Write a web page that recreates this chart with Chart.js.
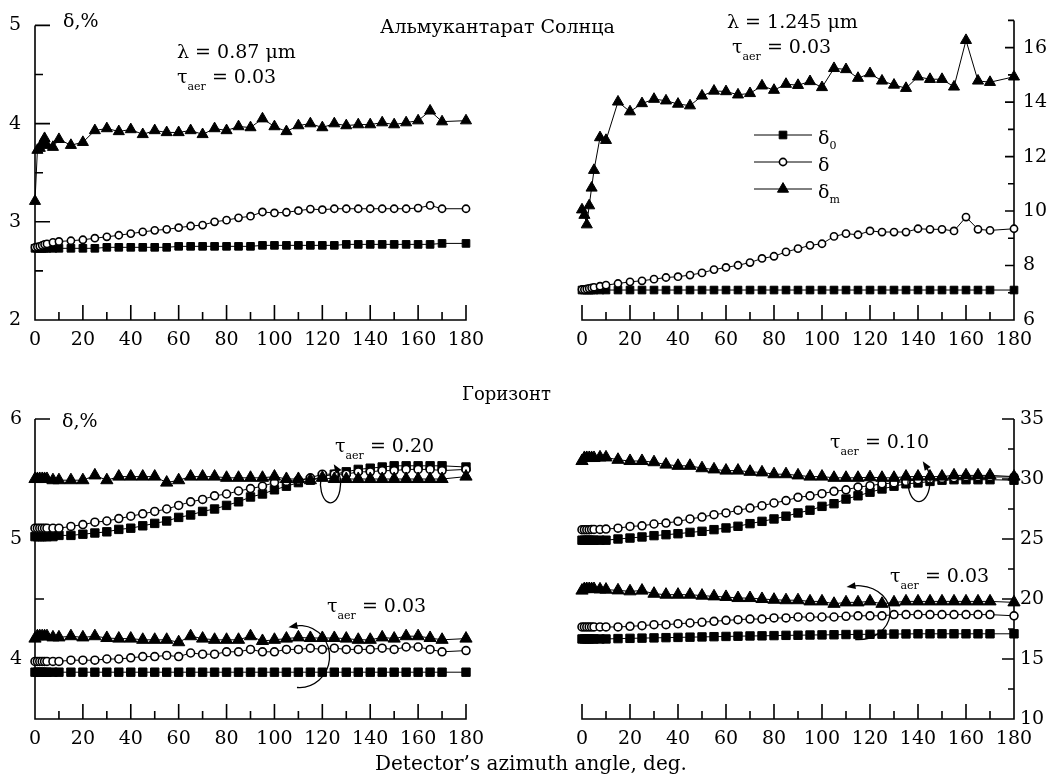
<!DOCTYPE html>
<html lang="ru">
<head>
<meta charset="utf-8">
<title>δ vs detector azimuth</title>
<script src="https://cdn.jsdelivr.net/npm/chart.js@4.4.1/dist/chart.umd.min.js"></script>
<style>
html,body{margin:0;padding:0;background:#fff}
#wrap{position:relative;width:1059px;height:780px;overflow:hidden;font-family:"DejaVu Serif",serif;color:#000}
#wrap canvas{position:absolute}
.t{position:absolute;font-size:19px;line-height:1;white-space:nowrap}
.s{font-size:11px;position:relative;top:7px}
.d{font-size:11px;position:relative;top:5px}
</style>
</head>
<body>
<div id="wrap">
<canvas id="p1" width="530" height="360" style="left:0;top:0"></canvas>
<canvas id="p2" width="529" height="360" style="left:530px;top:0"></canvas>
<canvas id="p3" width="530" height="400" style="left:0;top:380px"></canvas>
<canvas id="p4" width="529" height="400" style="left:530px;top:380px"></canvas>

<div class="t" style="left:63px;top:11px">δ,%</div>
<div class="t" style="left:380px;top:17px">Альмукантарат Солнца</div>
<div class="t" style="left:177px;top:42px">λ = 0.87 μm</div>
<div class="t" style="left:177px;top:67px">τ<span class="s">aer</span> = 0.03</div>
<div class="t" style="left:727px;top:12px">λ = 1.245 μm</div>
<div class="t" style="left:732px;top:37px">τ<span class="s">aer</span> = 0.03</div>
<div class="t" style="left:818px;top:128px">δ<span class="d">0</span></div>
<div class="t" style="left:818px;top:155px">δ</div>
<div class="t" style="left:818px;top:182px">δ<span class="d">m</span></div>
<div class="t" style="left:462px;top:385px;font-size:18px">Горизонт</div>
<div class="t" style="left:62px;top:411px">δ,%</div>
<div class="t" style="left:335px;top:436px">τ<span class="s">aer</span> = 0.20</div>
<div class="t" style="left:327px;top:596px">τ<span class="s">aer</span> = 0.03</div>
<div class="t" style="left:830px;top:432px">τ<span class="s">aer</span> = 0.10</div>
<div class="t" style="left:890px;top:566px">τ<span class="s">aer</span> = 0.03</div>
<div class="t" style="left:375px;top:753px;font-size:20px">Detector’s azimuth angle, deg.</div>
</div>

<script>
// ---------- data ----------
const X_DEG = [0,1,2,3,4,5,7.5,10,15,20,25,30,35,40,45,50,55,60,65,70,75,80,85,90,95,100,105,110,115,120,125,130,135,140,145,150,155,160,165,170,180];

const X_TICK_LABELS = [0,20,40,60,80,100,120,140,160,180];
const X_MINOR_TICKS = [10,30,50,70,90,110,130,150,170];

// Almucantar, lambda = 0.87 um, tau = 0.03
const alm087_d0 = [2.73,2.73,2.73,2.73,2.73,2.73,2.73,2.73, 2.73,2.73,2.73,2.74,2.74,2.74,2.74,2.74,2.74,2.75, 2.75,2.75,2.75,2.75,2.75,2.75,2.76,2.76,2.76,2.76, 2.76,2.76,2.76,2.77,2.77,2.77,2.77,2.77,2.77,2.77, 2.77,2.78, 2.78];
const alm087_d  = [2.74,2.745,2.75,2.76,2.77,2.775,2.79,2.80, 2.807,2.817,2.833,2.847,2.863,2.88,2.897,2.913,2.923,2.94, 2.957,2.967,3.0,3.017,3.04,3.057,3.1,3.09,3.097,3.113, 3.13,3.123,3.133,3.133,3.133,3.133,3.133,3.133,3.133,3.14, 3.167,3.133, 3.133];
const alm087_dm = [3.21,3.73,3.75,3.80,3.85,3.78,3.76,3.84, 3.78,3.81,3.93,3.95,3.92,3.94,3.89,3.93,3.91,3.91, 3.93,3.89,3.95,3.93,3.97,3.96,4.05,3.97,3.92,3.98, 4.00,3.96,4.00,3.98,3.99,3.99,4.01,3.99,4.01,4.03, 4.13,4.02, 4.03];

// Almucantar, lambda = 1.245 um, tau = 0.03
const alm1245_d0 = [7.1,7.1,7.1,7.1,7.1,7.1,7.1,7.1, 7.1,7.1,7.1,7.1,7.1,7.1,7.1,7.1,7.1,7.1, 7.1,7.1,7.1,7.1,7.1,7.1,7.1,7.1,7.1,7.1, 7.1,7.1,7.1,7.1,7.1,7.1,7.1,7.1,7.1,7.1, 7.1,7.1, 7.1];
const alm1245_d  = [7.12,7.12,7.14,7.16,7.18,7.2,7.24,7.28, 7.34,7.4,7.44,7.5,7.56,7.59,7.65,7.73,7.85,7.93, 8.01,8.11,8.26,8.34,8.5,8.62,8.74,8.8,9.07,9.17, 9.13,9.27,9.23,9.23,9.23,9.35,9.33,9.33,9.27,9.78, 9.33,9.29, 9.35];
const alm1245_dm = [10.05,9.85,9.5,10.2,10.85,11.5,12.7,12.6, 14.01,13.65,13.95,14.11,14.05,13.93,13.87,14.23,14.41,14.39, 14.27,14.32,14.6,14.44,14.66,14.62,14.76,14.54,15.24,15.2, 14.88,15.05,14.78,14.63,14.51,14.93,14.84,14.84,14.56,16.27, 14.78,14.73, 14.93];

// Horizon, lambda = 0.87 um, tau = 0.20
const hor087_020_d0 = [5.02,5.02,5.02,5.02,5.02,5.02,5.02,5.03, 5.03,5.04,5.05,5.06,5.08,5.09,5.11,5.13,5.15,5.18, 5.2,5.23,5.25,5.28,5.31,5.35,5.375,5.41,5.44,5.47, 5.49,5.52,5.54,5.56,5.58,5.59,5.6,5.61,5.61,5.61, 5.61,5.61, 5.6];
const hor087_020_d  = [5.09,5.09,5.09,5.09,5.09,5.09,5.09,5.09, 5.105,5.12,5.14,5.15,5.17,5.19,5.21,5.23,5.25,5.28, 5.31,5.33,5.36,5.375,5.4,5.42,5.44,5.47,5.48,5.49, 5.51,5.54,5.54,5.54,5.56,5.56,5.57,5.57,5.58,5.58, 5.58,5.57, 5.58];
const hor087_020_dm = [5.5,5.5,5.5,5.5,5.5,5.5,5.49,5.49, 5.49,5.49,5.53,5.49,5.52,5.52,5.52,5.52,5.47,5.49, 5.52,5.52,5.52,5.51,5.51,5.51,5.51,5.52,5.5,5.5, 5.49,5.51,5.5,5.5,5.5,5.5,5.5,5.5,5.5,5.5, 5.5,5.5, 5.52];

// Horizon, lambda = 0.87 um, tau = 0.03
const hor087_003_d0 = [3.89,3.89,3.89,3.89,3.89,3.89,3.89,3.89, 3.89,3.89,3.89,3.89,3.89,3.89,3.89,3.89,3.89,3.89, 3.89,3.89,3.89,3.89,3.89,3.89,3.89,3.89,3.89,3.89, 3.89,3.89,3.89,3.89,3.89,3.89,3.89,3.89,3.89,3.89, 3.89,3.89, 3.89];
const hor087_003_d  = [3.98,3.98,3.98,3.98,3.98,3.98,3.98,3.98, 3.99,3.99,3.99,4.0,4.0,4.01,4.02,4.02,4.03,4.02, 4.05,4.04,4.04,4.06,4.06,4.08,4.06,4.06,4.08,4.08, 4.09,4.08,4.09,4.08,4.08,4.08,4.09,4.08,4.1,4.1, 4.08,4.06, 4.07];
const hor087_003_dm = [4.17,4.19,4.19,4.19,4.19,4.19,4.18,4.18, 4.19,4.18,4.19,4.175,4.17,4.17,4.16,4.16,4.16,4.14, 4.19,4.17,4.16,4.16,4.16,4.19,4.15,4.16,4.17,4.18, 4.175,4.175,4.175,4.17,4.16,4.16,4.18,4.17,4.19,4.19, 4.175,4.16, 4.17];

// Horizon, lambda = 1.245 um, tau = 0.10
const hor1245_010_d0 = [24.9,24.9,24.9,24.9,24.9,24.9,24.9,24.9, 25.0,25.08,25.17,25.28,25.36,25.44,25.55,25.64,25.78,25.92, 26.06,26.28,26.47,26.67,26.9,27.17,27.4,27.72,27.94,28.33, 28.6,28.9,29.17,29.4,29.6,29.67,29.8,29.9,29.94,29.94, 29.94,29.94, 29.9];
const hor1245_010_d  = [25.78,25.78,25.78,25.78,25.8,25.8,25.8,25.83, 25.9,26.05,26.1,26.25,26.33,26.47,26.67,26.83,27.03,27.17, 27.4,27.58,27.78,28.0,28.2,28.47,28.6,28.78,28.97,29.1, 29.33,29.44,29.6,29.67,29.8,29.94,30.0,30.05,30.1,30.17, 30.17,30.17, 30.17];
const hor1245_010_dm = [31.5,31.75,31.75,31.75,31.75,31.75,31.8,31.8, 31.6,31.5,31.5,31.4,31.2,31.1,31.1,30.9,30.8,30.7, 30.7,30.6,30.55,30.4,30.4,30.3,30.2,30.2,30.1,30.1, 30.1,30.15,30.1,30.1,30.2,30.2,30.2,30.2,30.3,30.3, 30.3,30.3, 30.2];

// Horizon, lambda = 1.245 um, tau = 0.03
const hor1245_003_d0 = [16.67,16.67,16.67,16.67,16.67,16.67,16.67,16.67, 16.7,16.72,16.74,16.76,16.78,16.8,16.82,16.84,16.86,16.88, 16.9,16.92,16.93,16.95,16.97,16.98,17.0,17.01,17.02,17.04, 17.05,17.06,17.07,17.08,17.09,17.1,17.1,17.1,17.1,17.1, 17.1,17.1, 17.1];
const hor1245_003_d  = [17.67,17.67,17.67,17.67,17.67,17.67,17.67,17.67, 17.67,17.72,17.78,17.86,17.86,17.94,18.0,18.06,18.14,18.22, 18.28,18.33,18.33,18.42,18.42,18.5,18.5,18.5,18.5,18.56, 18.6,18.6,18.6,18.7,18.7,18.7,18.7,18.7,18.7,18.7, 18.7,18.7, 18.6];
const hor1245_003_dm = [20.7,20.83,20.83,20.83,20.83,20.83,20.8,20.78, 20.72,20.64,20.7,20.44,20.36,20.36,20.36,20.28,20.22,20.17, 20.08,20.08,20.0,19.94,19.9,19.9,19.8,19.8,19.6,19.72, 19.72,19.8,19.6,19.72,19.8,19.8,19.8,19.8,19.8,19.8, 19.8,19.8, 19.72];

// y tick labels
const Y1_LABELS = [2,3,4,5];          const Y1_MINOR = [2.5,3.5,4.5];
const Y2_LABELS = [6,8,10,12,14,16];  const Y2_MINOR = [7,9,11,13,15,17];
const Y3_LABELS = [4,5,6];            const Y3_MINOR = [4.5,5.5];
const Y4_LABELS = [10,15,20,25,30,35];const Y4_MINOR = [12.5,17.5,22.5,27.5,32.5];

// ---------- drawing ----------
Chart.defaults.font.family = '"DejaVu Serif", serif';
Chart.defaults.font.size = 19;
Chart.defaults.color = '#000';

function series(ys, kind, k) {
  const d = {
    data: X_DEG.map((x, i) => ({x: x, y: ys[i]})),
    showLine: true, borderColor: '#000', borderWidth: 1, clip: false,
    pointBorderColor: '#000', pointHoverRadius: 0
  };
  if (kind === 'sq') Object.assign(d, {pointStyle: 'rect', pointRadius: 5.4 * k, pointBackgroundColor: '#000', pointBorderWidth: 1, order: 3});
  if (kind === 'ci') Object.assign(d, {pointStyle: 'circle', pointRadius: 3.6 * k, pointBackgroundColor: '#fff', pointBorderWidth: 1.6, order: 2});
  if (kind === 'tr') Object.assign(d, {pointStyle: 'triangle', pointRadius: 6.4 * k, pointBackgroundColor: '#000', pointBorderWidth: 1, order: 1});
  return d;
}

function arrowDraw(ctx, chart, a) {
  const sx = chart.scales.x, sy = chart.scales.y;
  const cx = sx.getPixelForValue(a.x), cy = sy.getPixelForValue(a.y);
  const r = Math.PI / 180;
  ctx.beginPath();
  ctx.ellipse(cx, cy, a.rx, a.ry, 0, a.a0 * r, a.a1 * r, true);
  ctx.stroke();
  const t = a.a1 * r;
  const px = cx + a.rx * Math.cos(t), py = cy + a.ry * Math.sin(t);
  let tx = a.rx * Math.sin(t), ty = -a.ry * Math.cos(t);
  const L = Math.hypot(tx, ty); tx /= L; ty /= L;
  const nx = -ty, ny = tx;
  ctx.beginPath();
  ctx.moveTo(px + tx * 6, py + ty * 6);
  ctx.lineTo(px - tx * 3 + nx * 3.5, py - ty * 3 + ny * 3.5);
  ctx.lineTo(px - tx * 3 - nx * 3.5, py - ty * 3 - ny * 3.5);
  ctx.closePath();
  ctx.fill();
}

const framePlugin = {
  id: 'frame',
  beforeDatasetsDraw(chart, args, o) {
    const ctx = chart.ctx, sx = chart.scales.x, sy = chart.scales.y;
    const yb = sy.getPixelForValue(sy.min);
    const xl = sx.getPixelForValue(sx.min), xr = sx.getPixelForValue(sx.max);
    const xa = o.side === 'left' ? xl : xr;
    const dir = o.side === 'left' ? 1 : -1;
    ctx.save();
    ctx.strokeStyle = '#000'; ctx.lineWidth = 1.6;
    ctx.beginPath();
    ctx.moveTo(xl - 0.8, yb); ctx.lineTo(xr + 0.8, yb);
    ctx.moveTo(xa, yb); ctx.lineTo(xa, sy.getPixelForValue(sy.max));
    X_TICK_LABELS.forEach(v => { const p = sx.getPixelForValue(v); ctx.moveTo(p, yb); ctx.lineTo(p, yb - o.xMaj); });
    X_MINOR_TICKS.forEach(v => { const p = sx.getPixelForValue(v); ctx.moveTo(p, yb); ctx.lineTo(p, yb - o.xMin); });
    o.yMajor.forEach(v => { const p = sy.getPixelForValue(v); ctx.moveTo(xa, p); ctx.lineTo(xa + dir * o.yMaj, p); });
    o.yMinor.forEach(v => { const p = sy.getPixelForValue(v); ctx.moveTo(xa, p); ctx.lineTo(xa + dir * o.yMin, p); });
    ctx.stroke();
    ctx.restore();
  },
  afterDatasetsDraw(chart, args, o) {
    const ctx = chart.ctx;
    ctx.save();
    ctx.strokeStyle = '#000'; ctx.fillStyle = '#000'; ctx.lineWidth = 1.3;
    (o.arrows || []).forEach(a => arrowDraw(ctx, chart, a));
    if (o.legend) {
      const L = o.legend;
      L.rows.forEach((row, i) => {
        const y = L.y0 + i * L.dy;
        ctx.lineWidth = 1;
        ctx.beginPath(); ctx.moveTo(L.x0, y); ctx.lineTo(L.x1, y); ctx.stroke();
        ctx.fillStyle = row.fill; ctx.strokeStyle = '#000'; ctx.lineWidth = row.bw;
        Chart.helpers.drawPoint(ctx, {pointStyle: row.style, radius: row.r, rotation: 0, borderWidth: row.bw}, (L.x0 + L.x1) / 2, y);
      });
    }
    ctx.restore();
  }
};

function makePanel(id, cfg) {
  new Chart(document.getElementById(id), {
    type: 'scatter',
    data: {datasets: cfg.datasets},
    options: {
      responsive: false, animation: false, devicePixelRatio: 1, events: [],
      layout: {padding: cfg.padding},
      plugins: {legend: {display: false}, tooltip: {enabled: false}, frame: cfg.frame},
      scales: {
        x: {
          type: 'linear', min: 0, max: 180,
          afterBuildTicks: s => { s.ticks = X_TICK_LABELS.map(v => ({value: v})); },
          afterFit: s => { s.height = cfg.xh; },
          ticks: {padding: cfg.xpad, maxRotation: 0, autoSkip: false, font: {size: 19}},
          grid: {display: false, drawTicks: false}, border: {display: false}
        },
        y: {
          type: 'linear', position: cfg.side, min: cfg.ymin, max: cfg.ymax,
          afterBuildTicks: s => { s.ticks = cfg.ylabels.map(v => ({value: v})); },
          afterFit: s => { s.width = cfg.yw; },
          ticks: {padding: cfg.ypad, autoSkip: false, font: {size: 19}},
          grid: {display: false, drawTicks: false}, border: {display: false}
        }
      }
    },
    plugins: [framePlugin]
  });
}

makePanel('p1', {
  datasets: [series(alm087_dm, 'tr', 1), series(alm087_d, 'ci', 1), series(alm087_d0, 'sq', 1)],
  padding: {left: 0, top: 18, right: 64, bottom: 0}, xh: 40, yw: 35, xpad: 9, ypad: 14,
  side: 'left', ymin: 2, ymax: 5, ylabels: Y1_LABELS,
  frame: {side: 'left', xMaj: 15, xMin: 8, yMaj: 15, yMin: 8, yMajor: Y1_LABELS, yMinor: Y1_MINOR}
});

makePanel('p2', {
  datasets: [series(alm1245_dm, 'tr', 1), series(alm1245_d, 'ci', 1), series(alm1245_d0, 'sq', 1)],
  padding: {left: 52, top: 20, right: 0, bottom: 0}, xh: 40, yw: 45, xpad: 9, ypad: 9,
  side: 'right', ymin: 6, ymax: 17, ylabels: Y2_LABELS,
  frame: {side: 'right', xMaj: 15, xMin: 8, yMaj: 9, yMin: 6, yMajor: Y2_LABELS, yMinor: Y2_MINOR,
    legend: {x0: 224, x1: 282, y0: 135, dy: 27, rows: [
      {style: 'rect', r: 5.4, fill: '#000', bw: 1},
      {style: 'circle', r: 3.6, fill: '#fff', bw: 1.6},
      {style: 'triangle', r: 6.4, fill: '#000', bw: 1}
    ]}}
});

makePanel('p3', {
  datasets: [series(hor087_020_dm, 'tr', 1.1), series(hor087_020_d, 'ci', 1.1), series(hor087_020_d0, 'sq', 1.1),
             series(hor087_003_dm, 'tr', 1.1), series(hor087_003_d, 'ci', 1.1), series(hor087_003_d0, 'sq', 1.1)],
  padding: {left: 0, top: 39, right: 64, bottom: 0}, xh: 61, yw: 35, xpad: 9, ypad: 13,
  side: 'left', ymin: 3.5, ymax: 6, ylabels: Y3_LABELS,
  frame: {side: 'left', xMaj: 15, xMin: 8, yMaj: 15, yMin: 9, yMajor: Y3_LABELS, yMinor: Y3_MINOR,
    arrows: [
      {x: 123.4, y: 5.46, rx: 10, ry: 19, a0: 200, a1: -50},
      {x: 110.5, y: 4.02, rx: 30, ry: 31, a0: 95, a1: -100}
    ]}
});

makePanel('p4', {
  datasets: [series(hor1245_010_dm, 'tr', 1.1), series(hor1245_010_d, 'ci', 1.1), series(hor1245_010_d0, 'sq', 1.1),
             series(hor1245_003_dm, 'tr', 1.1), series(hor1245_003_d, 'ci', 1.1), series(hor1245_003_d0, 'sq', 1.1)],
  padding: {left: 52, top: 39, right: 0, bottom: 0}, xh: 61, yw: 45, xpad: 9, ypad: 6,
  side: 'right', ymin: 10, ymax: 35, ylabels: Y4_LABELS,
  frame: {side: 'right', xMaj: 15, xMin: 8, yMaj: 12, yMin: 6, yMajor: Y4_LABELS, yMinor: Y4_MINOR,
    arrows: [
      {x: 140.4, y: 29.78, rx: 11, ry: 20, a0: 200, a1: -50},
      {x: 115, y: 18.86, rx: 32, ry: 27, a0: 95, a1: -100}
    ]}
});
</script>
</body>
</html>
